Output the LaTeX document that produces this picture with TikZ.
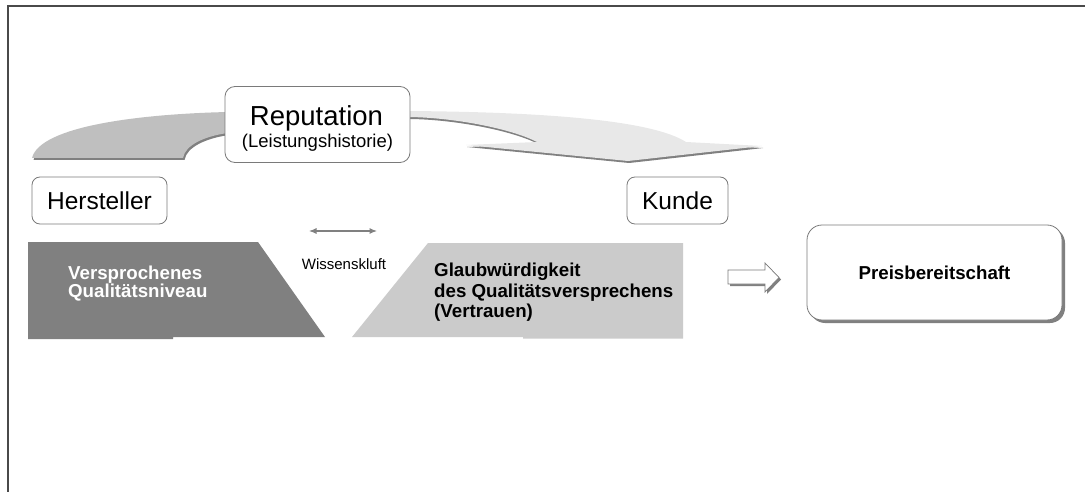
\documentclass[tikz,border=0pt]{standalone}
\usepackage{fontspec}
\setmainfont{Liberation Sans}
\usetikzlibrary{arrows.meta}
\definecolor{framegray}{HTML}{4A4A4A}
\definecolor{edgegray}{HTML}{7A7A7A}
\definecolor{shadowgray}{HTML}{808080}
\definecolor{darkblock}{HTML}{808080}
\definecolor{lightblock}{HTML}{CBCBCB}
\definecolor{bandmid}{HTML}{BFBFBF}
\definecolor{bandlight}{HTML}{E8E8E8}
\tikzset{
  rbox/.style={draw=edgegray, fill=white, line width=0.8pt, rounded corners=8pt, inner sep=0pt},
  lbl/.style={inner sep=0pt, anchor=base west},
  fs/.style={font=\fontsize{#1}{#1}\selectfont},
  fsb/.style={font=\fontsize{#1}{#1}\selectfont\bfseries},
}
\begin{document}
\begin{tikzpicture}[x=1pt,y=-1pt]
\useasboundingbox (0,0) rectangle (1085,492);

% outer frame (top and left edges)
\draw[framegray, line width=1.5pt] (8,492) -- (8,6) -- (1085,6);

% curved band from Hersteller up to the reputation box
\fill[shadowgray, shift={(1.5,2)}] (32,158) .. controls (40,126) and (140,114) .. (228,112)
  -- (228,133) .. controls (205,136) and (185,145) .. (183,158) -- cycle;
\fill[bandmid] (32,158) .. controls (40,126) and (140,114) .. (228,112)
  -- (228,133) .. controls (205,136) and (185,145) .. (183,158) -- cycle;

% curved arrow from the reputation box down towards Kunde
\fill[shadowgray, shift={(1.2,2)}] (406,111) .. controls (560,112) and (655,122) .. (686,142)
  -- (762,146) -- (628,161) -- (466,145) -- (537,142)
  .. controls (510,128) and (450,117) .. (406,117) -- cycle;
\fill[bandlight] (406,111) .. controls (560,112) and (655,122) .. (686,142)
  -- (762,146) -- (628,161) -- (466,145) -- (537,142)
  .. controls (510,128) and (450,117) .. (406,117) -- cycle;

% reputation box
\node[rbox, rounded corners=10pt, minimum width=185pt, minimum height=76pt] (rep) at (317.5,124.5) {};
\node[inner sep=0pt, anchor=base, fs=27.5] (reptitle) at (316.5,125.5) {Reputation};
\node[inner sep=0pt, anchor=base, fs=18.5] (repsub) at (317.5,147.5) {(Leistungshistorie)};

% actors
\node[rbox, minimum width=135pt, minimum height=47pt, fs=24.5] (hersteller) at (99.5,200.5) {Hersteller};
\node[rbox, minimum width=101pt, minimum height=47pt, fs=24.5] (kunde) at (677.5,200.5) {Kunde};

% knowledge gap
\coordinate (gapL) at (309,231);
\coordinate (gapR) at (377,231);
\draw[shadowgray, line width=1.1pt, {Latex[length=7.5pt,width=6pt]}-{Latex[length=7.5pt,width=6pt]}] (gapL) -- (gapR);
\node[inner sep=0pt, fs=15] (gap) at (344,264.5) {Wissenskluft};

% promised quality level
\fill[darkblock] (28,242) -- (258,242) -- (325,337) -- (173,337) -- (173,339) -- (28,339) -- cycle;
\node[lbl, fsb=18.7, text=white] (promise1) at (68,279) {Versprochenes};
\node[lbl, fsb=18.7, text=white] (promise2) at (68,297) {Qualitätsniveau};

% credibility of the promise
\fill[lightblock] (428,243) -- (683,243) -- (683,338.5) -- (523,338.5) -- (523,337) -- (352,337) -- cycle;
\node[lbl, fsb=18.7] (trust1) at (434,276) {Glaubwürdigkeit};
\node[lbl, fsb=18.7] (trust2) at (434,297) {des Qualitätsversprechens};
\node[lbl, fsb=18.7] (trust3) at (434,317.5) {(Vertrauen)};

% hollow block arrow
\fill[shadowgray, shift={(2,2)}] (728,270) -- (765,270) -- (765,263) -- (779,277.5) -- (765,292) -- (765,284) -- (728,284) -- cycle;
\draw[edgegray, fill=white, line width=0.7pt] (728,270) -- (765,270) -- (765,263) -- (779,277.5) -- (765,292) -- (765,284) -- (728,284) -- cycle;

% willingness to pay
\fill[shadowgray, rounded corners=15pt] (810,228) rectangle (1065,323);
\node[rbox, rounded corners=15pt, minimum width=255pt, minimum height=95pt, fsb=18.7] (price) at (934.5,272.5) {Preisbereitschaft};
\end{tikzpicture}
\end{document}
